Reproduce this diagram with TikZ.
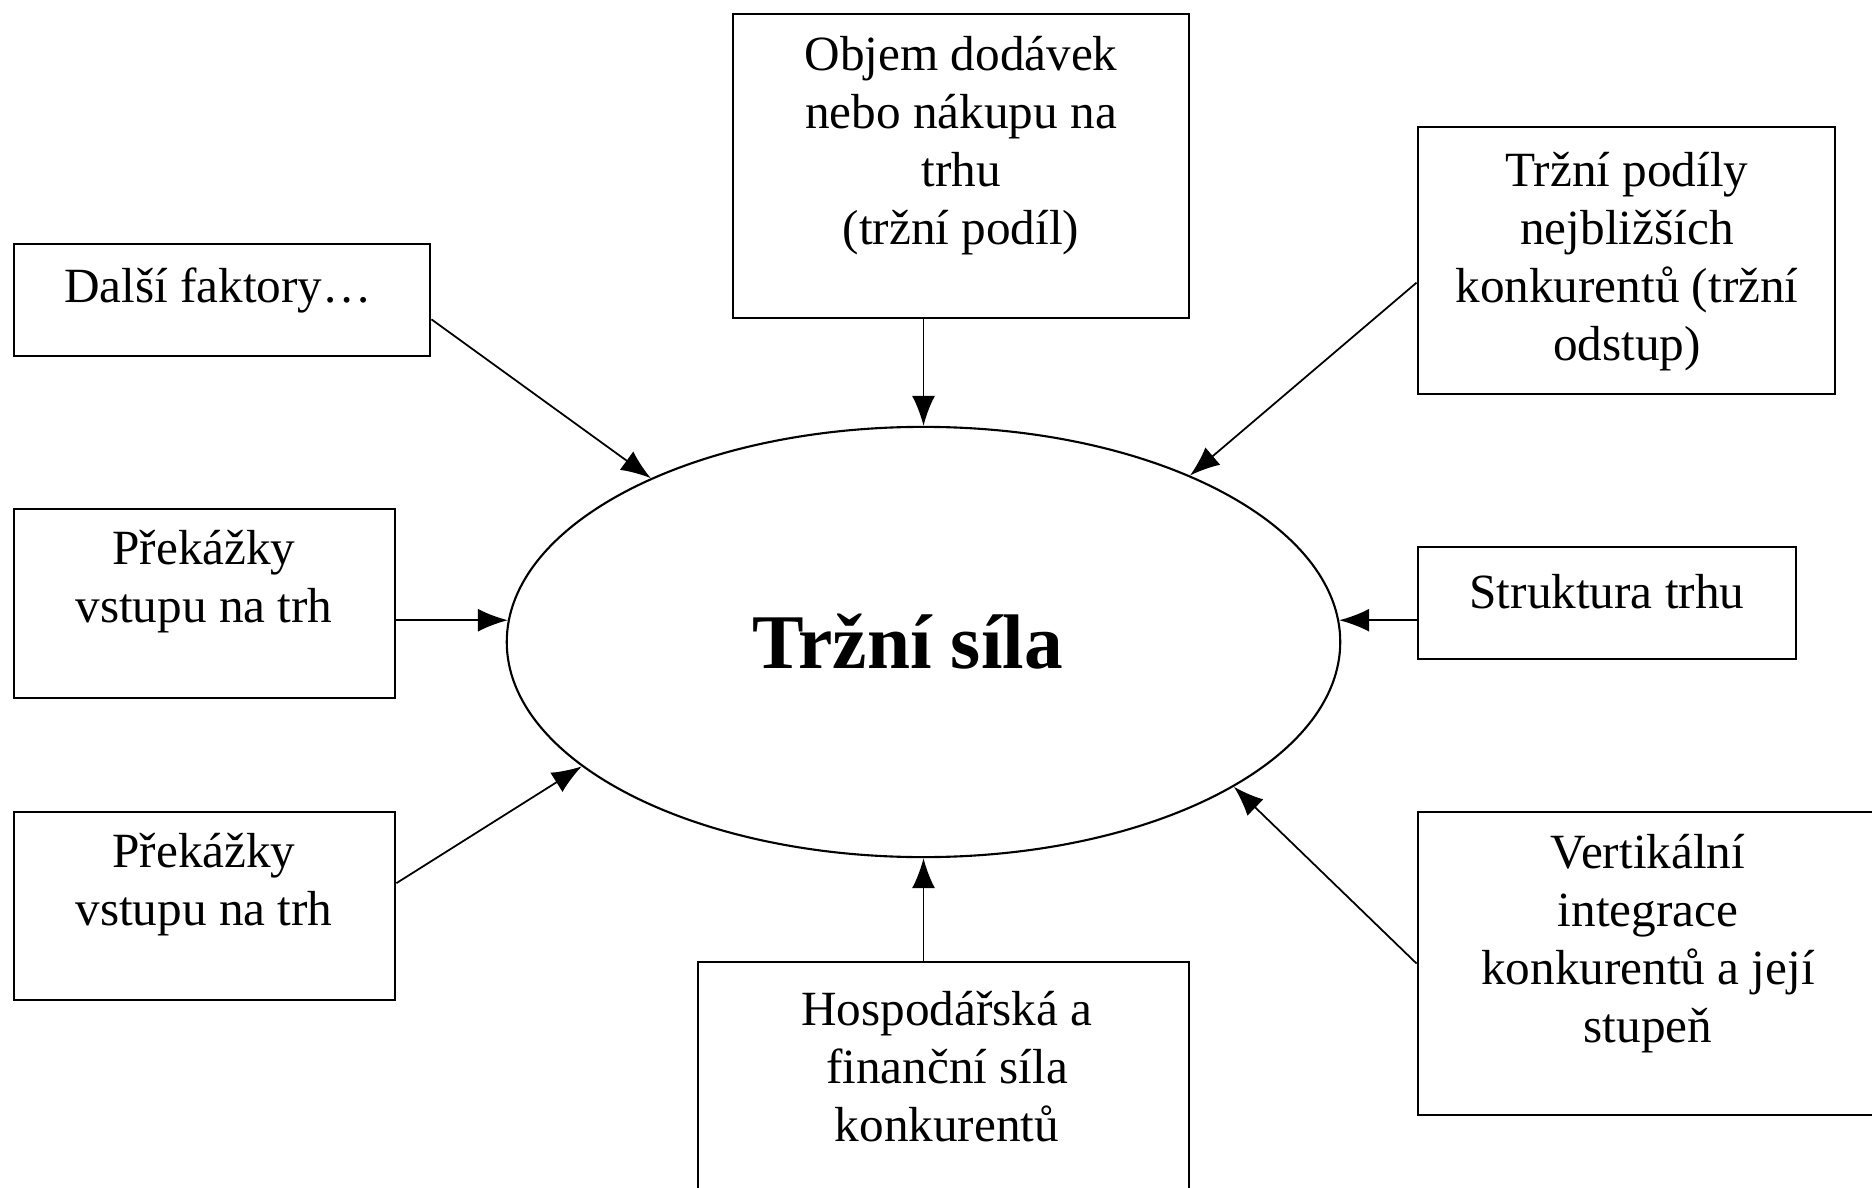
\documentclass[tikz,border=0pt]{standalone}
\usepackage{fontspec}
\setmainfont{Liberation Serif}
\usepackage{tikz}
\usetikzlibrary{shapes.geometric, arrows.meta}
\tikzstyle{arrow} = [line width=0.5pt,-{Latex[length=8.5pt,width=6.5pt]}]
\tikzstyle{box} = [rectangle, draw=black, line width=0.75pt, inner sep=0pt]
\tikzstyle{txt} = [align=center, font=\fontsize{14}{16.5}\selectfont]
\tikzstyle{oval} = [ellipse, draw=black, line width=0.6pt, inner sep=0pt, minimum width=8.33cm, minimum height=4.30cm, font=\fontsize{22}{26}\selectfont\bfseries]

\begin{document}
\begin{tikzpicture}[x=0.01cm, y=-0.01cm]
		\useasboundingbox (0,0) rectangle (1872,1188);
		\clip (0,0) rectangle (1872,1188);
		\node (trh) [oval] at (923.5,642) {Tržní síla\kern9pt};
		\node (dalsi) [box, minimum width=4.16cm, minimum height=1.12cm] at (222,300) {};
		\node (dalsitext) [txt] at (218,290) {Další faktory…};
		\node (objem) [box, minimum width=4.56cm, minimum height=3.04cm] at (961,166) {};
		\node (objemtext) [txt] at (961,146) {Objem dodávek\\nebo nákupu na\\trhu\\(tržní podíl)};
		\node (podily) [box, minimum width=4.17cm, minimum height=2.67cm] at (1626.5,260.5) {};
		\node (podilytext) [txt] at (1627,262) {Tržní podíly\\nejbližších\\konkurentů (tržní\\odstup)};
		\node (prek1) [box, minimum width=3.81cm, minimum height=1.89cm] at (204.5,603.5) {};
		\node (prek1text) [txt] at (204,582) {Překážky\\vstupu na trh};
		\node (prek2) [box, minimum width=3.81cm, minimum height=1.88cm] at (204.5,906) {};
		\node (prek2text) [txt] at (204,885) {Překážky\\vstupu na trh};
		\node (struktura) [box, minimum width=3.78cm, minimum height=1.12cm] at (1607,603) {};
		\node (strukturatext) [txt] at (1607,592) {Struktura trhu};
		\node (vert) [box, minimum width=4.62cm, minimum height=3.03cm] at (1649,963.5) {};
		\node (verttext) [txt] at (1648,944) {Vertikální\\integrace\\konkurentů a její\\stupeň};
		\node (hosp) [box, minimum width=4.91cm, minimum height=2.50cm] at (943.5,1087) {};
		\node (hosptext) [txt] at (947,1067) {Hospodářská a\\finanční síla\\konkurentů};
		\draw [arrow] ([yshift=-5.5pt]dalsi.east) -- (trh.149);
		\draw [arrow] (trh.north |- objem.south) -- (trh.north);
		\draw [arrow] ([yshift=-6.3pt]podily.west) -- (trh.32);
		\draw [arrow] (prek1.east |- trh.177) -- (trh.177);
		\draw [arrow] (struktura.west |- trh.3) -- (trh.3);
		\draw [arrow] ([yshift=6.5pt]prek2.east) -- (trh.200);
		\draw [arrow] (trh.south |- hosp.north) -- (trh.south);
		\draw [arrow] (vert.west) -- (trh.335);
	\end{tikzpicture}
\end{document}
